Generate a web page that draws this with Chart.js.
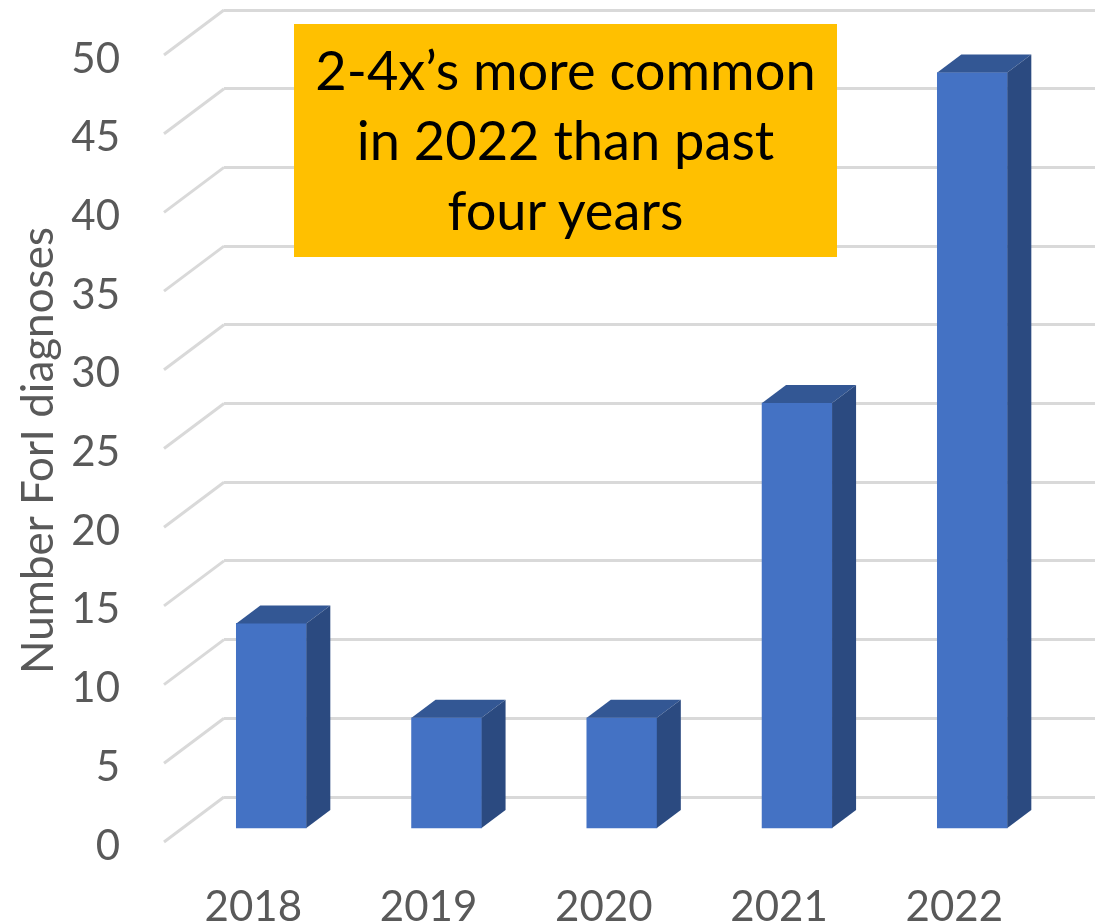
<!DOCTYPE html>
<html>
<head>
<meta charset="utf-8">
<title>ForI diagnoses</title>
<script src="https://cdn.jsdelivr.net/npm/chart.js@4"></script>
<style>
  html, body { margin: 0; padding: 0; background: #fff; overflow: hidden; }
  #wrap { position: relative; width: 1095px; height: 923px; }
  #note {
    position: absolute; left: 294px; top: 24px; width: 543px; height: 233px;
    background: #FFC000; color: #000; text-align: center;
    font: 54.2px/70px Lato, sans-serif; padding-top: 11px; box-sizing: border-box;
  }
</style>
</head>
<body>
<div id="wrap">
  <canvas id="chart" width="1095" height="923"></canvas>
  <div id="note">2-4x’s more common<br>in 2022 than past<br>four years</div>
</div>
<script>
const years  = [2018, 2019, 2020, 2021, 2022];
const counts = [13, 7, 7, 27, 48];
const axisTitle = 'Number ForI diagnoses';

const FONT = 'Lato, sans-serif';
const GREY = '#595959';
const GRID = '#D9D9D9';

// fake 3D: side + top faces hang off the real bar elements,
// wall grid comes from the "wall" scale, floor diagonals added here
const depth3d = {
  id: 'depth3d',
  beforeDatasetsDraw(chart) {
    const { ctx, chartArea, scales } = chart;
    ctx.save();
    ctx.strokeStyle = GRID;
    ctx.lineWidth = 3;
    scales.wall.ticks.forEach(t => {
      const y = scales.wall.getPixelForValue(t.value);
      ctx.beginPath();
      ctx.moveTo(chartArea.left, y);
      ctx.lineTo(chartArea.left - 60, y + 45);
      ctx.stroke();
    });
    ctx.restore();
  },
  afterDatasetsDraw(chart) {
    const { ctx } = chart;
    const dx = 24, dy = 18;
    ctx.save();
    chart.getDatasetMeta(0).data.forEach(bar => {
      const l = bar.x - bar.width / 2, r = bar.x + bar.width / 2;
      ctx.fillStyle = '#335794';
      ctx.beginPath();
      ctx.moveTo(l, bar.y);
      ctx.lineTo(l + dx, bar.y - dy);
      ctx.lineTo(r + dx, bar.y - dy);
      ctx.lineTo(r, bar.y);
      ctx.fill();
      ctx.fillStyle = '#2B4A80';
      ctx.beginPath();
      ctx.moveTo(r, bar.y);
      ctx.lineTo(r + dx, bar.y - dy);
      ctx.lineTo(r + dx, bar.base - dy);
      ctx.lineTo(r, bar.base);
      ctx.fill();
    });
    ctx.restore();
  }
};

new Chart(document.getElementById('chart'), {
  type: 'bar',
  data: {
    datasets: [{
      data: years.map((yr, i) => ({ x: yr, y: counts[i] })),
      backgroundColor: '#4472C4',
      barThickness: 70,
      yAxisID: 'y',
      xAxisID: 'x'
    }]
  },
  plugins: [depth3d],
  options: {
    responsive: false,
    animation: false,
    layout: { autoPadding: false, padding: { top: 10 } },
    plugins: { legend: { display: false }, tooltip: { enabled: false } },
    scales: {
      // bars
      x: { type: 'linear', display: false, offset: false, min: 2017.73, max: 2022.70 },
      // year labels sit a little left of the bars
      xLabels: {
        type: 'linear',
        position: 'bottom',
        offset: false,
        min: 2017.833,
        max: 2022.803,
        grid: { display: false },
        border: { display: false },
        afterFit(s) { s.height = 77; },
        ticks: {
          stepSize: 1,
          includeBounds: false,
          maxRotation: 0,
          padding: 28,
          color: GREY,
          font: { family: FONT, size: 42 },
          callback: v => String(v)
        }
      },
      // front plane the bars stand on
      y: { display: false, min: -1.144, max: 51.97 },
      // back wall gridlines
      wall: {
        position: 'left',
        min: -3.113,
        max: 50,
        grid: { color: GRID, lineWidth: 3, drawTicks: false },
        border: { display: false },
        afterBuildTicks(s) { s.ticks = s.ticks.filter(t => t.value >= 0); },
        ticks: { display: false, stepSize: 5 }
      },
      // tick labels sit lower than either plane
      labels: {
        position: 'left',
        min: 0,
        max: 53.11,
        grid: { display: false },
        border: { display: false },
        afterFit(s) {
          s.width = 224;
          // big tick padding otherwise leaks into the vertical margins
          s.paddingTop = 0;
          s.paddingBottom = 0;
        },
        title: {
          display: true,
          // trailing spaces nudge the centred title down the axis
          text: axisTitle + '    ',
          color: GREY,
          font: { family: FONT, size: 44 },
          padding: { top: 12, bottom: 0 }
        },
        ticks: {
          stepSize: 5,
          includeBounds: false,
          padding: 96,
          color: GREY,
          font: { family: FONT, size: 42 }
        }
      }
    }
  }
});
</script>
</body>
</html>
